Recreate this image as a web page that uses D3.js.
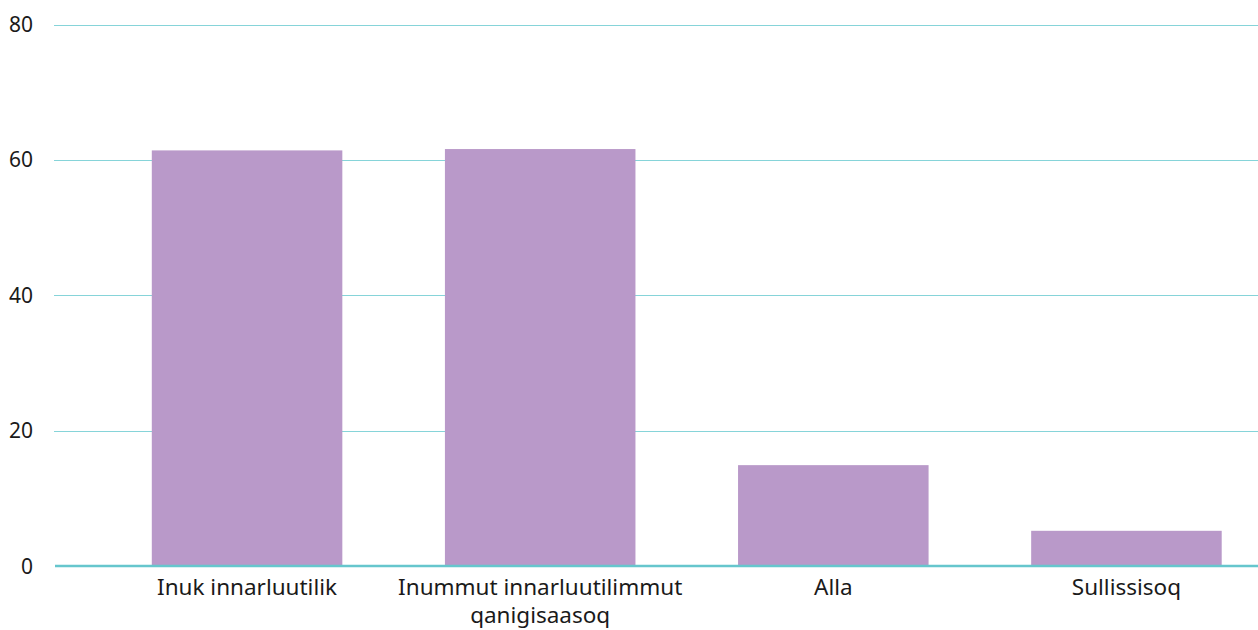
<!DOCTYPE html>
<html>
<head>
<meta charset="UTF-8">
<title>Bar chart</title>
<script src="https://cdn.jsdelivr.net/npm/d3@7"></script>
<style>
  body { margin: 0; background: #fff; }
  text { font-family: "Source Sans Pro", "Noto Sans", sans-serif; fill: #1a1a1a; }
</style>
</head>
<body>
<script>
const categories = ["Inuk innarluutilik", "Inummut innarluutilimmut qanigisaasoq", "Alla", "Sullissisoq"];
const values = [61.4, 61.6, 14.9, 5.2];
const yTicks = [0, 20, 40, 60, 80];

const width = 1258, height = 630;
const margin = { top: 24, right: -15, bottom: 64, left: 54 };

const svg = d3.select("body").append("svg")
    .attr("width", width)
    .attr("height", height);

const y = d3.scaleLinear().domain([0, 80]).range([566, 24.5]);
const x = d3.scaleBand().domain(categories).range([100.5, 1273]).paddingInner(0.35).paddingOuter(0.175);

// gridlines
svg.append("g")
    .selectAll("line")
    .data(yTicks.filter(d => d > 0))
    .join("line")
    .attr("x1", margin.left)
    .attr("x2", width)
    .attr("y1", d => Math.round(y(d)) + 0.5)
    .attr("y2", d => Math.round(y(d)) + 0.5)
    .attr("stroke", "#86d4d9")
    .attr("stroke-width", 1.2);

// y labels
svg.append("g")
    .selectAll("text")
    .data(yTicks)
    .join("text")
    .attr("x", 33)
    .attr("y", d => y(d))
    .attr("dy", "0.36em")
    .attr("text-anchor", "end")
    .style("font-size", "21px")
    .text(d => d);

// bars
svg.append("g")
    .selectAll("rect")
    .data(values)
    .join("rect")
    .attr("x", (d, i) => x(categories[i]))
    .attr("width", x.bandwidth())
    .attr("y", d => y(d))
    .attr("height", d => y(0) - y(d))
    .attr("fill", "#b999c9");

// baseline
svg.append("line")
    .attr("x1", 55)
    .attr("x2", width)
    .attr("y1", y(0))
    .attr("y2", y(0))
    .attr("stroke", "#66c6cd")
    .attr("stroke-width", 2.5);

// category labels
const wrapLabel = {
    "Inummut innarluutilimmut qanigisaasoq": ["Inummut innarluutilimmut", "qanigisaasoq"]
};
svg.append("g")
    .selectAll("text")
    .data(categories)
    .join("text")
    .attr("x", d => x(d) + x.bandwidth() / 2)
    .attr("y", 595)
    .attr("text-anchor", "middle")
    .style("font-size", "22.5px")
    .each(function (d) {
        const lines = wrapLabel[d] || [d];
        d3.select(this).selectAll("tspan")
            .data(lines)
            .join("tspan")
            .attr("x", x(d) + x.bandwidth() / 2)
            .attr("dy", (l, i) => i ? 28 : 0)
            .text(l => l);
    });
</script>
</body>
</html>
